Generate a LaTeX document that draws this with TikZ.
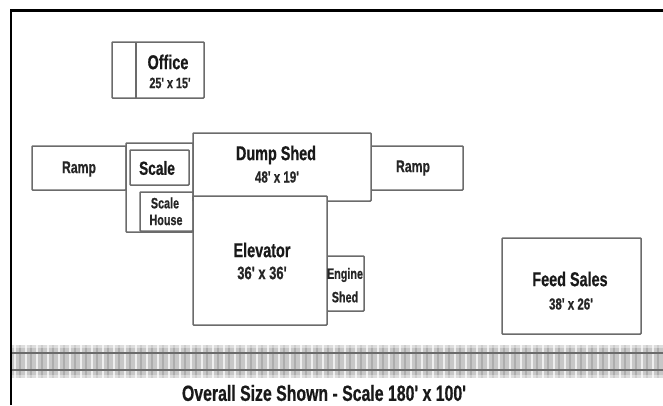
\documentclass[tikz,border=0pt]{standalone}
\usepackage{fontspec}
\newfontfamily\lblfont[FakeStretch=0.72,FakeBold=0.6]{Liberation Sans Bold}
\tikzset{
  bldg/.style={draw=black!58,line width=1.5pt,fill=white,rounded corners=0.8pt},
  big/.style={font=\lblfont\fontsize{20}{20}\selectfont,text=black!90,inner sep=0pt},
  mid/.style={font=\lblfont\fontsize{17}{17}\selectfont,text=black!85,inner sep=0pt},
  small/.style={font=\lblfont\fontsize{15}{15}\selectfont,text=black!85,inner sep=0pt},
}
\begin{document}
\begin{tikzpicture}[x=1pt,y=-1pt]
\useasboundingbox (0,0) rectangle (663,405);
% track
\fill[black!22] (12,345) rectangle (663,378);
\foreach \i in {0,...,59}{
  \fill[white,opacity=.7] ({14+11*\i},345) rectangle ({15.5+11*\i},378);
  \fill[black!32] ({19+11*\i},345) rectangle ({21+11*\i},378);
}
\fill[white,opacity=.4] (12,345) rectangle (663,348);
\fill[white,opacity=.4] (12,375) rectangle (663,378);
\fill[black!58] (12,351.5) rectangle (663,353.5);
\fill[black!58] (12,369) rectangle (663,371);
% frame
\draw[line width=2.4pt,black] (11,405) -- (11,10.5) -- (663,10.5);
% buildings
\draw[bldg] (112,42) rectangle (204,98);
\draw[bldg] (136,42) -- (136,98);
\draw[bldg] (32,146) rectangle (126,190);
\draw[bldg] (126,143) rectangle (193,232);
\draw[bldg] (130,150) rectangle (189,185);
\draw[bldg] (140,192) rectangle (193,231);
\draw[bldg] (371,146) rectangle (463,190);
\draw[bldg] (193,133) rectangle (371,201);
\draw[bldg] (327,256) rectangle (364,311);
\draw[bldg] (193,196) rectangle (327,325);
\draw[bldg] (502,238) rectangle (641,334);
% labels
\node[big] (office) at (168,62) {Office};
\node[small] (officesize) at (170,83) {25' x 15'};
\node[mid] (rampl) at (79,169) {Ramp};
\node[big,font=\lblfont\fontsize{19}{19}\selectfont] (scale) at (157,168) {Scale};
\node[small] (scaleh1) at (165,203) {Scale};
\node[small] (scaleh2) at (166,220) {House};
\node[big] (dump) at (276,155) {Dump Shed};
\node[small,font=\lblfont\fontsize{16}{16}\selectfont] (dumpsize) at (277,177) {48' x 19'};
\node[mid] (rampr) at (413,168) {Ramp};
\node[big] (elev) at (262,250) {Elevator};
\node[mid,font=\lblfont\fontsize{18}{18}\selectfont] (elevsize) at (262,273) {36' x 36'};
\node[small] (eng1) at (345,275) {Engine};
\node[small] (eng2) at (345,297) {Shed};
\node[big] (feed) at (570,279) {Feed Sales};
\node[small,font=\lblfont\fontsize{16}{16}\selectfont] (feedsize) at (571,304) {38' x 26'};
\node[big,font=\lblfont\fontsize{22}{22}\selectfont] (cap) at (324,393) {Overall Size Shown - Scale 180' x 100'};
\end{tikzpicture}
\end{document}
